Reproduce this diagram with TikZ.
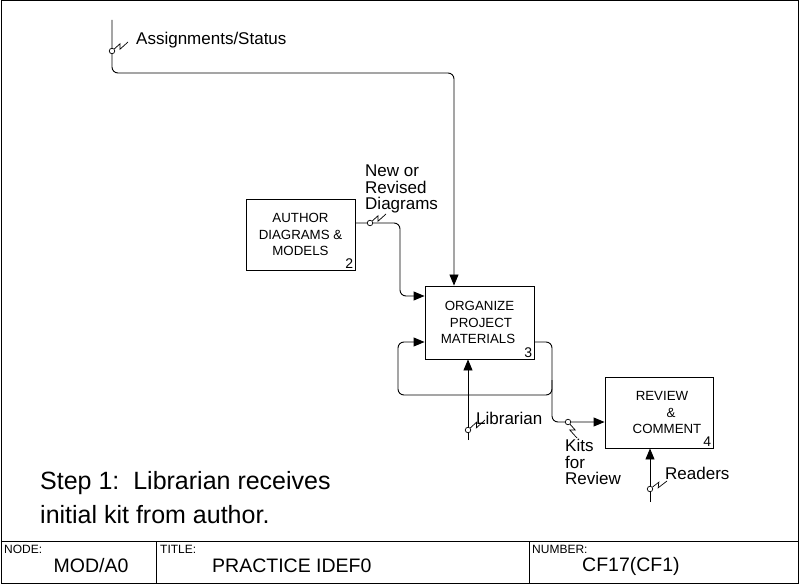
\documentclass[tikz,border=0pt]{standalone}
\usepackage{fontspec}
\setmainfont{Liberation Sans}
\usetikzlibrary{arrows.meta,calc}
\newcommand\idefsquig[3]{%
  \node[circle,draw,line width=0.7pt,fill=white,inner sep=0pt,minimum size=5.5pt] (#1) at #2 {};
  \coordinate (#1e) at #3;
  \draw[line width=0.7pt] (#1) -- ($(#1)!0.58!(#1e)!2.4pt!90:(#1e)$) -- ($(#1)!0.42!(#1e)!2.4pt!-90:(#1e)$) -- (#1e);}
\begin{document}
\begin{tikzpicture}[x=1pt,y=-1pt,
  box/.style={draw,line width=0.9pt,inner sep=0pt,align=center,font=\fontsize{13.3}{16.5}\selectfont},
  num/.style={anchor=south east,inner sep=2pt,font=\fontsize{14}{14}\selectfont},
  conn/.style={line width=0.9pt,rounded corners=6pt},
  arr/.style={conn,-{Triangle[length=11pt,width=9pt]}},
  lbl/.style={anchor=west,inner sep=0pt,align=left,font=\fontsize{17}{16.5}\selectfont},
  tab/.style={anchor=west,inner sep=0pt,font=\fontsize{12}{12}\selectfont},
  big/.style={anchor=west,inner sep=0pt,font=\fontsize{19.5}{20}\selectfont}]
\useasboundingbox (0,0) rectangle (800,585);
% frame and footer
\draw[line width=1pt] (1,1) rectangle (798,583);
\coordinate (fl) at (1,541);
\coordinate (fr) at (798,541);
\draw[line width=1pt] (fl) -- (fr);
\coordinate (d1t) at (156,541);
\coordinate (d1b) at (156,583);
\coordinate (d2t) at (529,541);
\coordinate (d2b) at (529,583);
\draw[line width=0.8pt] (d1t) -- (d1b);
\draw[line width=0.8pt] (d2t) -- (d2b);
\node[tab] (nodeh) at (4,549) {NODE:};
\node[tab] (titleh) at (160,549) {TITLE:};
\node[tab] (numh) at (532,549) {NUMBER:};
\node[big,anchor=center] (nodev) at (91,566) {MOD/A0};
\node[big] (titlev) at (212,566) {PRACTICE IDEF0};
\node[big] (numv) at (582,566) {CF17(CF1)};
% boxes
\node[box,minimum width=109pt,minimum height=71pt] (b2) at (300.5,234.5) {AUTHOR\\DIAGRAMS \&\hspace*{10pt}\\MODELS};
\node[num] (n2) at (b2.south east) {2};
\node[box,minimum width=109pt,minimum height=73pt] (b3) at (479.5,322.5) {ORGANIZE\\\hspace*{3pt}PROJECT\\MATERIALS\hspace*{3pt}};
\node[num] (n3) at (b3.south east) {3};
\node[box,minimum width=108pt,minimum height=71pt] (b4) at (659,412.5) {\hspace*{6pt}REVIEW\\\hspace*{24pt}\&\\\hspace*{16pt}COMMENT};
\node[num] (n4) at (b4.south east) {4};
% connectors
\coordinate (asrc) at (112,20);
\draw[arr] (asrc) -- (112,73) -- (454,73) -- (b3.north -| 454,0);
\draw[arr] (b2.east |- 0,223) -- (400,223) -- (400,296) -- (b3.west |- 0,296);
\draw[arr] (b3.east |- 0,342) -- (552,342) -- (552,422) -- (b4.west |- 0,422);
\coordinate (loopst) at (552,380);
\draw[arr] (loopst) -- (552,395) -- (398,395) -- (398,342) -- (b3.west |- 0,342);
\coordinate (libsrc) at (468,440);
\draw[arr] (libsrc) -- (b3.south -| 468,0);
\coordinate (rdsrc) at (650,502);
\draw[arr] (rdsrc) -- (b4.south -| 650,0);
% squiggles
\idefsquig{sa}{(112,51)}{(128,42)}
\idefsquig{sn}{(370,223)}{(386,214)}
\idefsquig{sl}{(468,430)}{(485,420)}
\idefsquig{sk}{(568,422)}{(577,438)}
\idefsquig{sr}{(650,489)}{(667,481)}
% labels
\node[lbl] (la) at (136,40) {Assignments/Status};
\node[lbl] (ln) at (365,189) {New or\\Revised\\Diagrams};
\node[lbl] (ll) at (476,418) {Librarian};
\node[lbl] (lk) at (565,462) {Kits\\for\\Review};
\node[lbl] (lr) at (665,473) {Readers};
\node[anchor=west,inner sep=0pt,align=left,font=\fontsize{25}{34}\selectfont] (step) at (40,498) {Step 1:\ \ Librarian receives\\initial kit from author.};
\end{tikzpicture}
\end{document}
